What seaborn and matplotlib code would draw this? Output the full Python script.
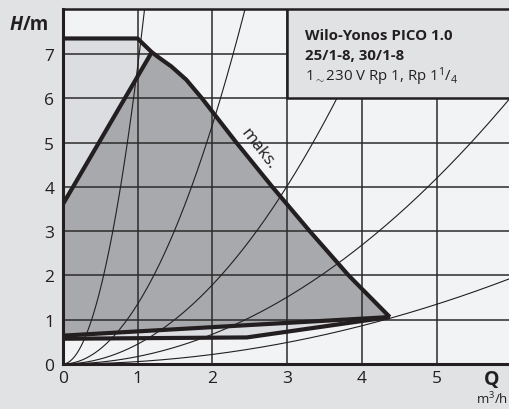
import numpy as np
import pandas as pd
import matplotlib
matplotlib.use("Agg")
import matplotlib.pyplot as plt
import seaborn as sns
from matplotlib.patches import Polygon, Rectangle

# ---- data ----
max_q = [0.0, 1.0, 1.19, 1.3, 1.45, 1.65, 1.86, 2.32, 2.8, 3.3, 3.82, 4.37]
max_h = [7.35, 7.35, 7.04, 6.9, 6.72, 6.42, 6.0, 5.0, 4.0, 3.0, 2.0, 1.06]
min_q = [0.0, 1.19]
min_h = [3.6, 7.04]
low_upper_q = [0.0, 4.37]
low_upper_h = [0.64, 1.06]
low_lower_q = [0.0, 2.46, 4.37]
low_lower_h = [0.57, 0.60, 1.06]
system_k = [6.7, 1.35, 0.447, 0.168, 0.054]   # H = k * Q^2 system curves
x_ticks = [0, 1, 2, 3, 4, 5]
y_ticks = [0, 1, 2, 3, 4, 5, 6, 7]
legend_lines = ["Wilo-Yonos PICO 1.0", "25/1-8, 30/1-8"]

# ---- style ----
FIG_BG = "#e1e2e4"
AX_BG = "#f2f3f5"
DARK = "#a8a9ac"
LIGHT = "#dcdde0"
INK = "#231f20"
GRID = "#2b2b2b"

sns.set_theme(style="white")
plt.rcParams["font.family"] = ["Open Sans", "DejaVu Sans"]
plt.rcParams["mathtext.fontset"] = "custom"
plt.rcParams["mathtext.rm"] = "Open Sans"
plt.rcParams["mathtext.it"] = "Open Sans:italic"
plt.rcParams["mathtext.bf"] = "Open Sans:bold"

W, H = 509, 410
fig = plt.figure(figsize=(W / 100, H / 100), dpi=100, facecolor=FIG_BG)
x0, y0, x_right, y_top = 62.7, 365.0, 509.0, 10.0
ax = fig.add_axes([x0 / W, (H - y0) / H, (x_right - x0) / W, (y0 - y_top) / H])
ax.set_facecolor(AX_BG)
ax.set_xlim(0, (x_right - x0) / 74.85)
ax.set_ylim(0, (y0 - y_top) / 44.29)

# light region under max curve
light_poly = list(zip(max_q, max_h)) + list(zip(low_lower_q, low_lower_h))[::-1]
ax.add_patch(Polygon(light_poly, closed=True, facecolor=LIGHT, edgecolor="none", zorder=1))
# dark working region
dark_poly = (list(zip(min_q, min_h)) + list(zip(max_q[3:], max_h[3:]))
             + list(zip(low_upper_q, low_upper_h))[::-1])
ax.add_patch(Polygon(dark_poly, closed=True, facecolor=DARK, edgecolor="none", zorder=1.5))

# grid
for xv in x_ticks[1:]:
    ax.axvline(xv, color=GRID, lw=1.1, zorder=2)
for yv in y_ticks[1:]:
    ax.axhline(yv, color=GRID, lw=1.1, zorder=2)

# system curves
qq = np.linspace(0, 6, 300)
rows = []
for k in system_k:
    for q in qq:
        rows.append({"Q": q, "H": k * q * q, "k": k})
sysdf = pd.DataFrame(rows)
sysdf = sysdf[sysdf["H"] <= 9]
sns.lineplot(data=sysdf, x="Q", y="H", units="k", estimator=None, color=INK,
             lw=0.8, ax=ax, zorder=3, legend=False, sort=False)

# thick characteristic lines
for qs, hs in [(max_q, max_h), (min_q, min_h), (low_upper_q, low_upper_h),
               (low_lower_q, low_lower_h)]:
    sns.lineplot(x=qs, y=hs, sort=False, estimator=None, color=INK, lw=3.0,
                 ax=ax, zorder=4, solid_capstyle="butt", solid_joinstyle="round")

# legend box
ax.add_patch(Rectangle((3.0, 6.0), 3.5, 3.0, facecolor=FIG_BG, edgecolor=INK,
                       lw=1.8, zorder=5))
ax.text(3.24, 7.43, legend_lines[0], fontsize=10.8, fontweight="bold", color=INK,
        va="center", ha="left", zorder=6)
ax.text(3.24, 6.98, legend_lines[1], fontsize=10.8, fontweight="bold", color=INK,
        va="center", ha="left", zorder=6)
ax.text(3.24, 6.52, r"1$_{\sim}$230 V Rp 1, Rp 1$^{1}$/$_{4}$", fontsize=10.8,
        color=INK, va="center", ha="left", zorder=6)

ax.text(2.62, 4.88, "maks.", rotation=-52, fontsize=12.5, color=INK,
        ha="center", va="center", zorder=6, rotation_mode="anchor")

# axes decoration
ax.set_xticks(x_ticks)
ax.set_yticks(y_ticks)
ax.tick_params(axis="both", length=0, labelsize=12.5, colors=INK)
ax.tick_params(axis="x", pad=4)
ax.tick_params(axis="y", pad=6)
ax.set_xlabel("")
ax.set_ylabel("")
for side in ["left", "bottom"]:
    ax.spines[side].set_linewidth(2.2)
    ax.spines[side].set_color(INK)
ax.spines["top"].set_linewidth(1.8)
ax.spines["top"].set_color(INK)
ax.spines["right"].set_visible(False)
for s in ax.spines.values():
    s.set_zorder(7)

fig.text(10 / W, 1 - 25 / H, "H", fontsize=13.5, fontweight="bold", style="italic",
         color=INK, va="center", ha="left")
fig.text(22.5 / W, 1 - 25 / H, "/m", fontsize=13.5, fontweight="bold",
         color=INK, va="center", ha="left")
fig.text(492 / W, 1 - 380 / H, "Q", fontsize=14, fontweight="bold",
         color=INK, va="center", ha="center")
fig.text(508 / W, 1 - 399 / H, r"m$^{3}$/h", fontsize=9.5, color=INK,
         va="center", ha="right")

fig.savefig("out.png", dpi=100, facecolor=FIG_BG)
